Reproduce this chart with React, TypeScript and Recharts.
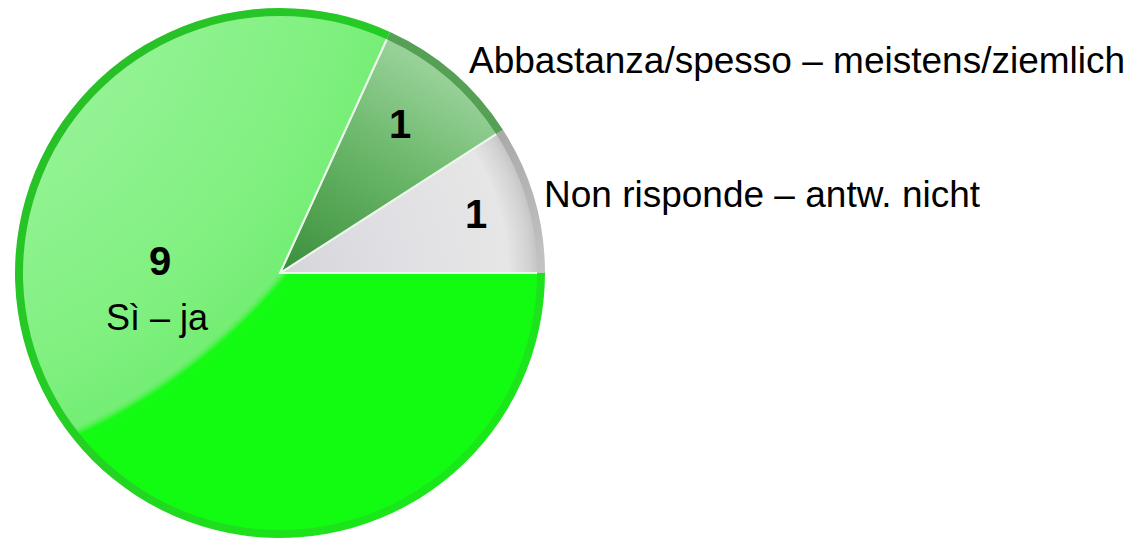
import React from "react";
import { PieChart, Pie, Cell } from "recharts";

const categories = [
  "Non risponde – antw. nicht",
  "Abbastanza/spesso – meistens/ziemlich",
  "Sì – ja",
];
const values = [1, 1, 9];
const insideTexts = ["", "", "Sì – ja"];

const data = categories.map((name, i) => ({ name, value: values[i] }));

const W = 1141;
const H = 541;
const CX = 280;
const CY = 273;
const R = 265;
const FONT = "'Liberation Sans', Arial, Helvetica, sans-serif";

// label layout offsets relative to pie centre (styling only)
const LAYOUT = [
  { vx: 196, vy: -45, tx: 264, ty: -66, ix: 0, iy: 0 },
  { vx: 120, vy: -135, tx: 189, ty: -200, ix: 0, iy: 0 },
  { vx: -120, vy: 2, tx: 0, ty: 0, ix: -123, iy: 57 },
];

const fills = ["url(#gGray)", "url(#gDark)", "url(#gGreen)"];
const rimFills = ["url(#rGray)", "#55a055", "url(#rGreen)"];

const renderLabel = (props: any) => {
  const i = props.index;
  const L = LAYOUT[i];
  const d = data[i];
  return (
    <g key={"lab" + i}>
      <text
        x={CX + L.vx}
        y={CY + L.vy}
        textAnchor="middle"
        fontFamily={FONT}
        fontWeight="bold"
        fontSize={40}
        fill="#000"
      >
        {d.value}
      </text>
      {insideTexts[i] ? (
        <text
          x={CX + L.ix}
          y={CY + L.iy}
          textAnchor="middle"
          fontFamily={FONT}
          fontSize={36}
          fill="#000"
        >
          {insideTexts[i]}
        </text>
      ) : (
        <text
          x={CX + L.tx}
          y={CY + L.ty}
          textAnchor="start"
          fontFamily={FONT}
          fontSize={37}
          fill="#000"
        >
          {d.name}
        </text>
      )}
    </g>
  );
};

export default function App() {
  return (
    <div
      style={{
        position: "fixed",
        left: 0,
        top: 0,
        width: W,
        height: H,
        background: "#ffffff",
      }}
    >
      <PieChart width={W} height={H} margin={{ top: 0, right: 0, bottom: 0, left: 0 }}>
        <defs>
          <radialGradient
            id="gGreen"
            gradientUnits="userSpaceOnUse"
            cx="-166"
            cy="-101"
            r="600"
            fx="-166"
            fy="-101"
          >
            <stop offset="0" stopColor="#a4f6a4" />
            <stop offset="0.5" stopColor="#96f396" />
            <stop offset="0.85" stopColor="#80f080" />
            <stop offset="0.968" stopColor="#74ee74" />
            <stop offset="0.974" stopColor="#5cf05c" />
            <stop offset="0.982" stopColor="#16fa16" />
            <stop offset="1" stopColor="#12fc12" />
          </radialGradient>
          <linearGradient
            id="gDark"
            gradientUnits="userSpaceOnUse"
            x1="290"
            y1="265"
            x2="420"
            y2="40"
          >
            <stop offset="0" stopColor="#3e923e" />
            <stop offset="0.55" stopColor="#6cb86c" />
            <stop offset="1" stopColor="#a0d6a0" />
          </linearGradient>
          <radialGradient
            id="gGray"
            gradientUnits="userSpaceOnUse"
            cx={CX}
            cy={CY}
            r={R}
          >
            <stop offset="0" stopColor="#d4d4da" />
            <stop offset="0.45" stopColor="#e0e0e4" />
            <stop offset="0.86" stopColor="#e6e6e6" />
            <stop offset="0.94" stopColor="#d2d2d2" />
            <stop offset="1" stopColor="#bababa" />
          </radialGradient>
          <linearGradient
            id="rGreen"
            gradientUnits="userSpaceOnUse"
            x1="60"
            y1="60"
            x2="500"
            y2="500"
          >
            <stop offset="0" stopColor="#28be28" />
            <stop offset="0.5" stopColor="#24d224" />
            <stop offset="1" stopColor="#18ec18" />
          </linearGradient>
          <linearGradient
            id="rGray"
            gradientUnits="userSpaceOnUse"
            x1="500"
            y1="130"
            x2="545"
            y2="273"
          >
            <stop offset="0" stopColor="#a9a9a9" />
            <stop offset="1" stopColor="#c4c4c4" />
          </linearGradient>
        </defs>
        <Pie
          data={data}
          dataKey="value"
          nameKey="name"
          cx={CX}
          cy={CY}
          outerRadius={R - 2}
          startAngle={0}
          endAngle={360}
          stroke="#eef7ee"
          strokeWidth={2}
          isAnimationActive={false}
          labelLine={false}
          label={renderLabel}
        >
          {data.map((d, i) => (
            <Cell key={d.name} fill={fills[i]} />
          ))}
        </Pie>
        <Pie
          data={data}
          dataKey="value"
          nameKey="name"
          cx={CX}
          cy={CY}
          innerRadius={R - 8}
          outerRadius={R}
          startAngle={0}
          endAngle={360}
          stroke="none"
          isAnimationActive={false}
        >
          {data.map((d, i) => (
            <Cell key={"rim" + d.name} fill={rimFills[i]} />
          ))}
        </Pie>
      </PieChart>
    </div>
  );
}
